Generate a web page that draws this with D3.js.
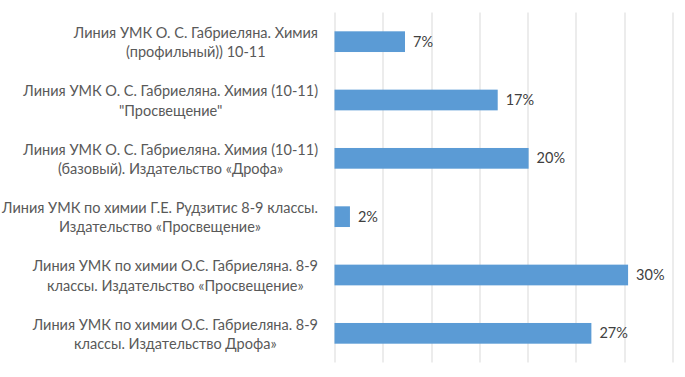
<!DOCTYPE html>
<html>
<head>
<meta charset="utf-8">
<script src="https://cdn.jsdelivr.net/npm/d3@7"></script>
<style>
    body { margin: 0; background: #fff; }
    text { font-family: Lato, "Open Sans", sans-serif; }
</style>
</head>
<body>
<div id="vis"></div>
<script>
// data
var categories = [
    ['Линия УМК О. С. Габриеляна. Химия', '(профильный)) 10-11'],
    ['Линия УМК О. С. Габриеляна. Химия (10-11)', '"Просвещение"'],
    ['Линия УМК О. С. Габриеляна. Химия (10-11)', '(базовый). Издательство «Дрофа»'],
    ['Линия УМК по химии Г.Е. Рудзитис 8-9 классы.', 'Издательство «Просвещение»'],
    ['Линия УМК по химии О.С. Габриеляна. 8-9', 'классы. Издательство «Просвещение»'],
    ['Линия УМК по химии О.С. Габриеляна. 8-9', 'классы. Издательство Дрофа»']
];
var values = [7.3, 16.9, 20.1, 1.6, 30.4, 26.6];
var xTicks = [0, 5, 10, 15, 20, 25, 30, 35];

var width = 685, height = 377;
var margin = { left: 334.5, right: 12.5, top: 12.5, bottom: 14.5 };
var innerW = width - margin.left - margin.right;
var innerH = height - margin.top - margin.bottom;

var svg = d3.select('#vis')
    .append('svg')
        .attr('width', width)
        .attr('height', height);

var g = svg.append('g')
    .attr('transform', 'translate(' + margin.left + ',' + margin.top + ')');

var x = d3.scaleLinear().domain([0, 35]).range([0, innerW]);
var y = d3.scaleBand()
    .domain(d3.range(categories.length))
    .range([0, innerH])
    .paddingInner(0.645)
    .paddingOuter(0.3225);

// gridlines
g.selectAll('.grid')
    .data(xTicks)
    .enter()
    .append('line')
        .attr('class', 'grid')
        .attr('x1', function(d) { return Math.round(x(d)) + 0.5; })
        .attr('x2', function(d) { return Math.round(x(d)) + 0.5; })
        .attr('y1', 0)
        .attr('y2', innerH)
        .attr('stroke', '#d9d9d9')
        .attr('stroke-width', 1);

// bars
g.selectAll('.bar')
    .data(values)
    .enter()
    .append('rect')
        .attr('class', 'bar')
        .attr('x', 0)
        .attr('y', function(d, i) { return y(i); })
        .attr('width', function(d) { return x(d); })
        .attr('height', y.bandwidth())
        .attr('fill', '#5b9bd5');

// value labels
g.selectAll('.val')
    .data(values)
    .enter()
    .append('text')
        .attr('class', 'val')
        .attr('x', function(d) { return x(d) + 8; })
        .attr('y', function(d, i) { return y(i) + y.bandwidth() / 2; })
        .attr('dy', '0.35em')
        .attr('font-size', 14.5)
        .attr('fill', '#404040')
        .text(function(d) { return Math.round(d) + '%'; });

// category labels: block right-aligned, lines centred inside block
var labelRight = 318;
var lineH = 19.5;
categories.forEach(function(lines, i)
{
    var cy = margin.top + y(i) + y.bandwidth() / 2 + 1;
    var grp = svg.append('g');
    var texts = lines.map(function(s, k)
    {
        return grp.append('text')
            .attr('y', cy + (k - (lines.length - 1) / 2) * lineH)
            .attr('dy', '0.35em')
            .attr('font-size', 14.5)
            .attr('fill', '#595959')
            .attr('text-anchor', 'middle')
            .text(s);
    });
    var maxW = d3.max(texts, function(t) { return t.node().getComputedTextLength(); });
    texts.forEach(function(t) { t.attr('x', labelRight - maxW / 2); });
});
</script>
</body>
</html>
